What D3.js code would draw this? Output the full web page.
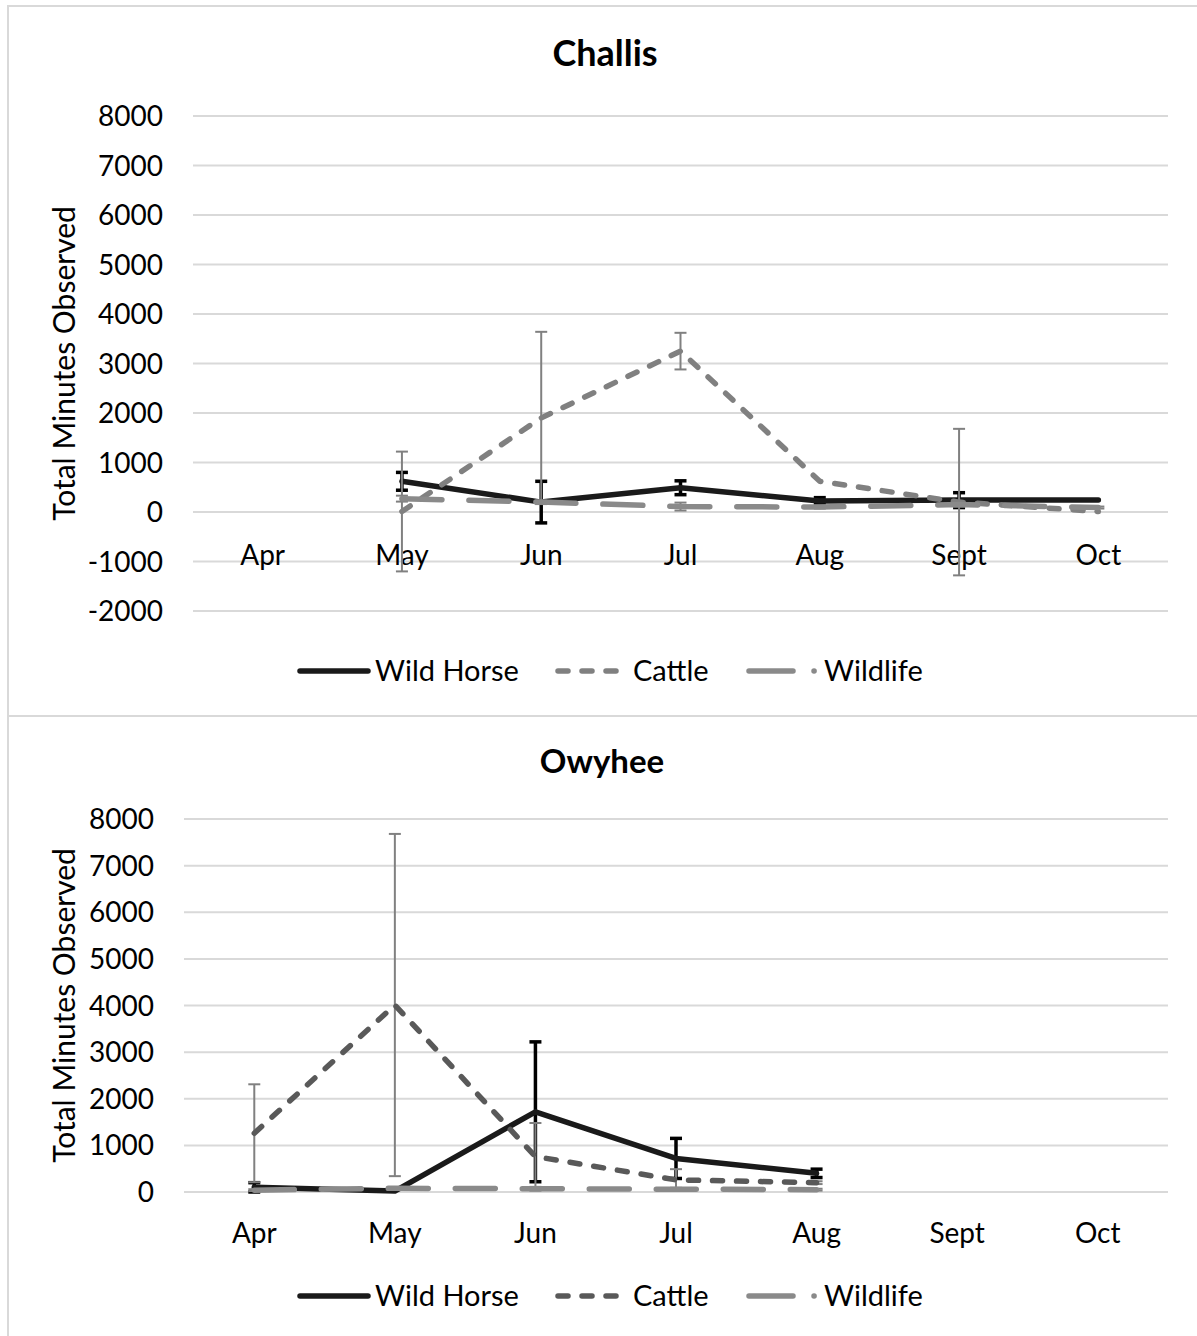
<!DOCTYPE html>
<html>
<head>
<meta charset="utf-8">
<script src="https://cdn.jsdelivr.net/npm/d3@7"></script>
<style>
  body { margin: 0; background: #fff; }
  svg { display: block; font-family: Lato, "Open Sans", sans-serif; }
</style>
</head>
<body>
<svg id="chart" width="1197" height="1336"></svg>
<script>
// month categories, shared by both panels
var months = ["Apr", "May", "Jun", "Jul", "Aug", "Sept", "Oct"];
var seriesNames = ["Wild Horse", "Cattle", "Wildlife"];

var challisHorse = [null, 620, 200, 490, 220, 240, 240];
var challisHorseErr = [null, 180, 420, 140, 70, 150, 0];
var challisCattle = [null, 10, 1900, 3250, 620, 200, 10];
var challisCattleErr = [null, 1210, 1740, 370, 0, 1480, 0];
var challisWildlife = [null, 270, 200, 110, 100, 150, 90];
var challisWildlifeErr = [null, 60, 30, 80, 30, 40, 20];
var challisTicks = [-2000, -1000, 0, 1000, 2000, 3000, 4000, 5000, 6000, 7000, 8000];

// Owyhee
var owyheeHorse = [100, 20, 1720, 720, 400, null, null];
var owyheeHorseErr = [100, 0, 1500, 430, 90, null, null];
var owyheeCattle = [1260, 4010, 760, 260, 200, null, null];
var owyheeCattleErr = [1050, 3670, 720, 230, 30, null, null];
var owyheeWildlife = [40, 80, 70, 60, 50, null, null];
var owyheeWildlifeErr = [20, 20, 40, 30, 20, null, null];
var owyheeTicks = [0, 1000, 2000, 3000, 4000, 5000, 6000, 7000, 8000];

var svg = d3.select("#chart");

function drawPanel(cfg) {
  var g = svg.append("g");

  // panel border
  g.append("rect")
    .attr("x", 8).attr("y", cfg.top)
    .attr("width", 1200).attr("height", cfg.height)
    .attr("fill", "none").attr("stroke", "#d9d9d9").attr("stroke-width", 2);

  g.append("text")
    .attr("x", cfg.titleX).attr("y", cfg.titleY)
    .attr("text-anchor", "middle")
    .attr("font-weight", "bold").attr("font-size", cfg.titleSize)
    .attr("fill", "#000")
    .text(cfg.title);

  var x = d3.scaleBand().domain(months).range([cfg.left, 1168]).padding(0);
  var y = d3.scaleLinear().domain(cfg.domain).range(cfg.yRange);

  // gridlines
  g.append("g").selectAll("line").data(cfg.ticks).join("line")
    .attr("x1", cfg.left).attr("x2", 1168)
    .attr("y1", d => y(d)).attr("y2", d => y(d))
    .attr("stroke", "#d9d9d9").attr("stroke-width", 2);

  // y tick labels
  g.append("g").selectAll("text").data(cfg.ticks).join("text")
    .attr("x", cfg.left - 30).attr("y", d => y(d) + 10)
    .attr("text-anchor", "end").attr("font-size", 28).attr("fill", "#000")
    .text(d => d);

  g.append("text")
    .attr("transform", "translate(75," + (y(cfg.domain[0]) + y(cfg.domain[1])) / 2 + ") rotate(-90)")
    .attr("text-anchor", "middle").attr("font-size", 30).attr("fill", "#000")
    .text("Total Minutes Observed");

  // month labels
  g.append("g").selectAll("text").data(months).join("text")
    .attr("x", d => x(d) + x.bandwidth() / 2).attr("y", cfg.monthY)
    .attr("text-anchor", "middle").attr("font-size", 28).attr("fill", "#000")
    .text(d => d);

  var cx = i => x(months[i]) + x.bandwidth() / 2;
  var line = d3.line()
    .defined(d => d != null)
    .x((d, i) => cx(i))
    .y(d => y(d));

  cfg.series.forEach(function(s) {
    // error bars
    var eg = g.append("g");
    s.values.forEach(function(v, i) {
      var e = s.err[i];
      if (v == null || e == null || e === 0) return;
      var px = cx(i);
      eg.append("line").attr("x1", px).attr("x2", px)
        .attr("y1", y(v + e)).attr("y2", y(v - e))
        .attr("stroke", s.errColor).attr("stroke-width", s.errWidth);
      [v + e, v - e].forEach(function(c) {
        eg.append("line").attr("x1", px - 6).attr("x2", px + 6)
          .attr("y1", y(c)).attr("y2", y(c))
          .attr("stroke", s.errColor).attr("stroke-width", s.errWidth);
      });
    });
    g.append("path")
      .attr("d", line(s.values))
      .attr("fill", "none")
      .attr("stroke", s.color).attr("stroke-width", 5.5)
      .attr("stroke-linecap", "round").attr("stroke-linejoin", "round")
      .attr("stroke-dasharray", s.dash);
  });

  // legend
  var lg = g.append("g");
  var items = [
    {x: 300, tx: 375, s: cfg.series[0]},
    {x: 558, tx: 633, s: cfg.series[1]},
    {x: 749, tx: 824, s: cfg.series[2]}
  ];
  items.forEach(function(it, k) {
    lg.append("line")
      .attr("x1", it.x).attr("x2", it.x + 68)
      .attr("y1", cfg.legendY).attr("y2", cfg.legendY)
      .attr("stroke", it.s.color).attr("stroke-width", 5.5)
      .attr("stroke-linecap", "round")
      .attr("stroke-dasharray", k == 2 ? "44,21,0.1,100" : it.s.dash);
    lg.append("text")
      .attr("x", it.tx).attr("y", cfg.legendY + 10)
      .attr("font-size", 29).attr("fill", "#000")
      .text(seriesNames[k]);
  });
}

drawPanel({
  top: 6, height: 710, title: "Challis", titleX: 605, titleY: 66, titleSize: 36,
  left: 193, domain: [-2000, 8000], yRange: [611, 116], ticks: challisTicks,
  monthY: 565, legendY: 671,
  series: [
    {values: challisHorse, err: challisHorseErr, color: "#1a1a1a", dash: null, errColor: "#000", errWidth: 3.5},
    {values: challisCattle, err: challisCattleErr, color: "#808080", dash: "10,14", errColor: "#808080", errWidth: 2},
    {values: challisWildlife, err: challisWildlifeErr, color: "#8a8a8a", dash: "40,27", errColor: "#808080", errWidth: 2}
  ]
});

drawPanel({
  top: 716, height: 640, title: "Owyhee", titleX: 602, titleY: 773, titleSize: 33,
  left: 184, domain: [0, 8000], yRange: [1192, 819], ticks: owyheeTicks,
  monthY: 1243, legendY: 1296,
  series: [
    {values: owyheeHorse, err: owyheeHorseErr, color: "#1a1a1a", dash: null, errColor: "#000", errWidth: 3.5},
    {values: owyheeCattle, err: owyheeCattleErr, color: "#595959", dash: "10,14", errColor: "#808080", errWidth: 2},
    {values: owyheeWildlife, err: owyheeWildlifeErr, color: "#8a8a8a", dash: "40,27", errColor: "#808080", errWidth: 2}
  ]
});
</script>
</body>
</html>
